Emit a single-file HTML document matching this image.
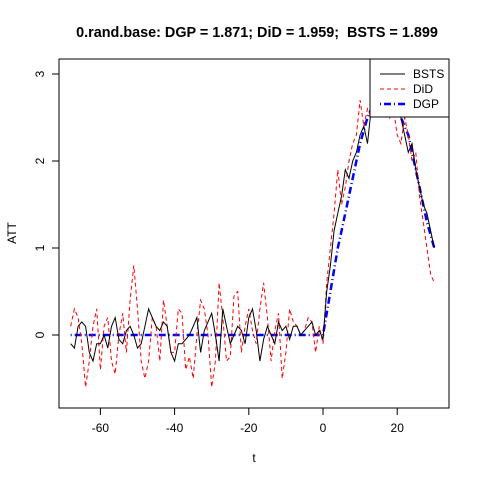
<!DOCTYPE html>
<html><head><meta charset="utf-8"><style>body{margin:0;background:#fff}svg{display:block;font-family:"Liberation Sans",Arial,sans-serif}</style></head>
<body>
<svg id="c" width="480" height="480">
<rect width="480" height="480" fill="#fff"/>
<text x="257" y="37" text-anchor="middle" font-weight="bold" font-size="14.4" style="white-space:pre">0.rand.base: DGP = 1.871; DiD = 1.959;  BSTS = 1.899</text>
<rect x="59" y="59" width="390" height="349" fill="none" stroke="#000"/>
<g id="axes"></g>
<g id="series"></g>
<g>
<rect x="370" y="59" width="79" height="58" fill="#fff" stroke="#000"/>
<line x1="380" y1="74" x2="405" y2="74" stroke="#000"/><text x="413" y="78" font-size="12">BSTS</text>
<line x1="380" y1="89" x2="405" y2="89" stroke="#f00" stroke-dasharray="4,3"/><text x="413" y="93" font-size="12">DiD</text>
<line x1="380" y1="104" x2="405" y2="104" stroke="#00f" stroke-width="2.5" stroke-dasharray="1,3,7,3"/><text x="413" y="108" font-size="12">DGP</text>
</g>
<text x="254" y="462" text-anchor="middle" font-size="12">t</text>
<text transform="translate(16,233) rotate(-90)" text-anchor="middle" font-size="12">ATT</text>
</svg>
<script>
const tStart=-68;
const bsts=[-0.1,-0.15,0.1,0.15,0.1,-0.2,-0.3,-0.1,-0.1,0.0,
-0.15,0.1,0.2,-0.05,-0.1,0.05,0.1,0.0,-0.15,-0.1,
0.1,0.3,0.2,0.1,0.05,0.15,0.1,-0.2,-0.3,-0.1,
-0.1,-0.05,0.0,0.1,0.2,-0.2,0.05,0.15,0.25,0.0,
-0.3,0.3,0.1,-0.1,0.0,0.1,0.05,-0.1,0.2,0.3,
0.05,-0.3,-0.05,0.1,0.0,-0.1,0.15,0.05,0.1,-0.05,
0.1,0.1,0.0,0.05,0.1,0.15,0.0,0.05,-0.05,
0.5,0.8,1.2,1.4,1.6,1.9,1.8,2.0,2.1,2.3,2.4,2.2,2.6,2.7,2.8,2.75,2.7,2.65,2.8,2.6,2.5,2.3,2.1,2.2,1.9,1.7,1.5,1.4,1.2,1.0];
const did=[0.1,0.3,0.2,-0.1,-0.6,-0.3,0.1,0.3,-0.4,0.1,
0.2,-0.3,-0.45,0.0,0.25,-0.2,0.4,0.8,0.3,-0.3,
-0.5,-0.3,0.2,0.1,-0.3,0.4,0.1,-0.2,-0.2,0.3,
0.25,-0.4,-0.25,-0.5,0.0,0.4,0.3,0.0,-0.6,-0.3,
0.6,0.2,-0.3,-0.25,0.45,0.5,-0.2,0.1,0.3,0.05,
-0.1,0.3,0.6,0.2,-0.3,0.05,0.25,-0.5,-0.2,0.3,
0.15,0.1,0.0,0.05,0.2,0.15,-0.2,0.1,-0.1,
0.6,1.0,1.4,1.9,1.5,1.7,2.0,2.2,2.3,2.7,2.4,2.6,2.5,2.8,2.7,2.6,2.9,2.5,2.6,2.3,2.2,2.5,2.3,2.0,2.1,1.6,1.3,1.0,0.7,0.6];
const dgpPost=[0.25,0.5,0.75,1.0,1.2,1.4,1.6,1.8,2.0,2.2,2.35,2.5,2.6,2.7,2.75,2.75,2.7,2.7,2.7,2.6,2.5,2.4,2.3,2.1,1.9,1.7,1.5,1.3,1.15,1.0];
const xTicks=[-60,-40,-20,0,20];
const yTicks=[0,1,2,3];
const dgp=new Array(69).fill(0).concat(dgpPost);
const X=t=>323+(t)*3.71, Y=v=>335-v*87;
const NS="http://www.w3.org/2000/svg";
const ax=document.getElementById('axes'), sg=document.getElementById('series');
function mk(tag,at,p){const e=document.createElementNS(NS,tag);for(const k in at)e.setAttribute(k,at[k]);p.appendChild(e);return e;}
xTicks.forEach(t=>{mk('line',{x1:X(t),x2:X(t),y1:408,y2:415,stroke:'#000'},ax);
const tx=mk('text',{x:X(t),y:432,'text-anchor':'middle','font-size':12},ax);tx.textContent=t;

});
yTicks.forEach(v=>{mk('line',{x1:52,x2:59,y1:Y(v),y2:Y(v),stroke:'#000'},ax);
const tx=mk('text',{transform:`translate(44,${Y(v)}) rotate(-90)`,'text-anchor':'middle','font-size':12},ax);tx.textContent=v;

});
function line(arr,st,name){const d=arr.map((v,i)=>(i?'L':'M')+X(tStart+i).toFixed(1)+','+Y(v).toFixed(1)).join('');
const p=mk('path',Object.assign({d:d,fill:'none'},st),sg);

}
line(dgp,{stroke:'#00f','stroke-width':2.5,'stroke-dasharray':'1,3,7,3'},'dgp-line');
line(did,{stroke:'#f00','stroke-dasharray':'4,3'},'did-line');
line(bsts,{stroke:'#000'},'bsts-line');
</script>
</body></html>
